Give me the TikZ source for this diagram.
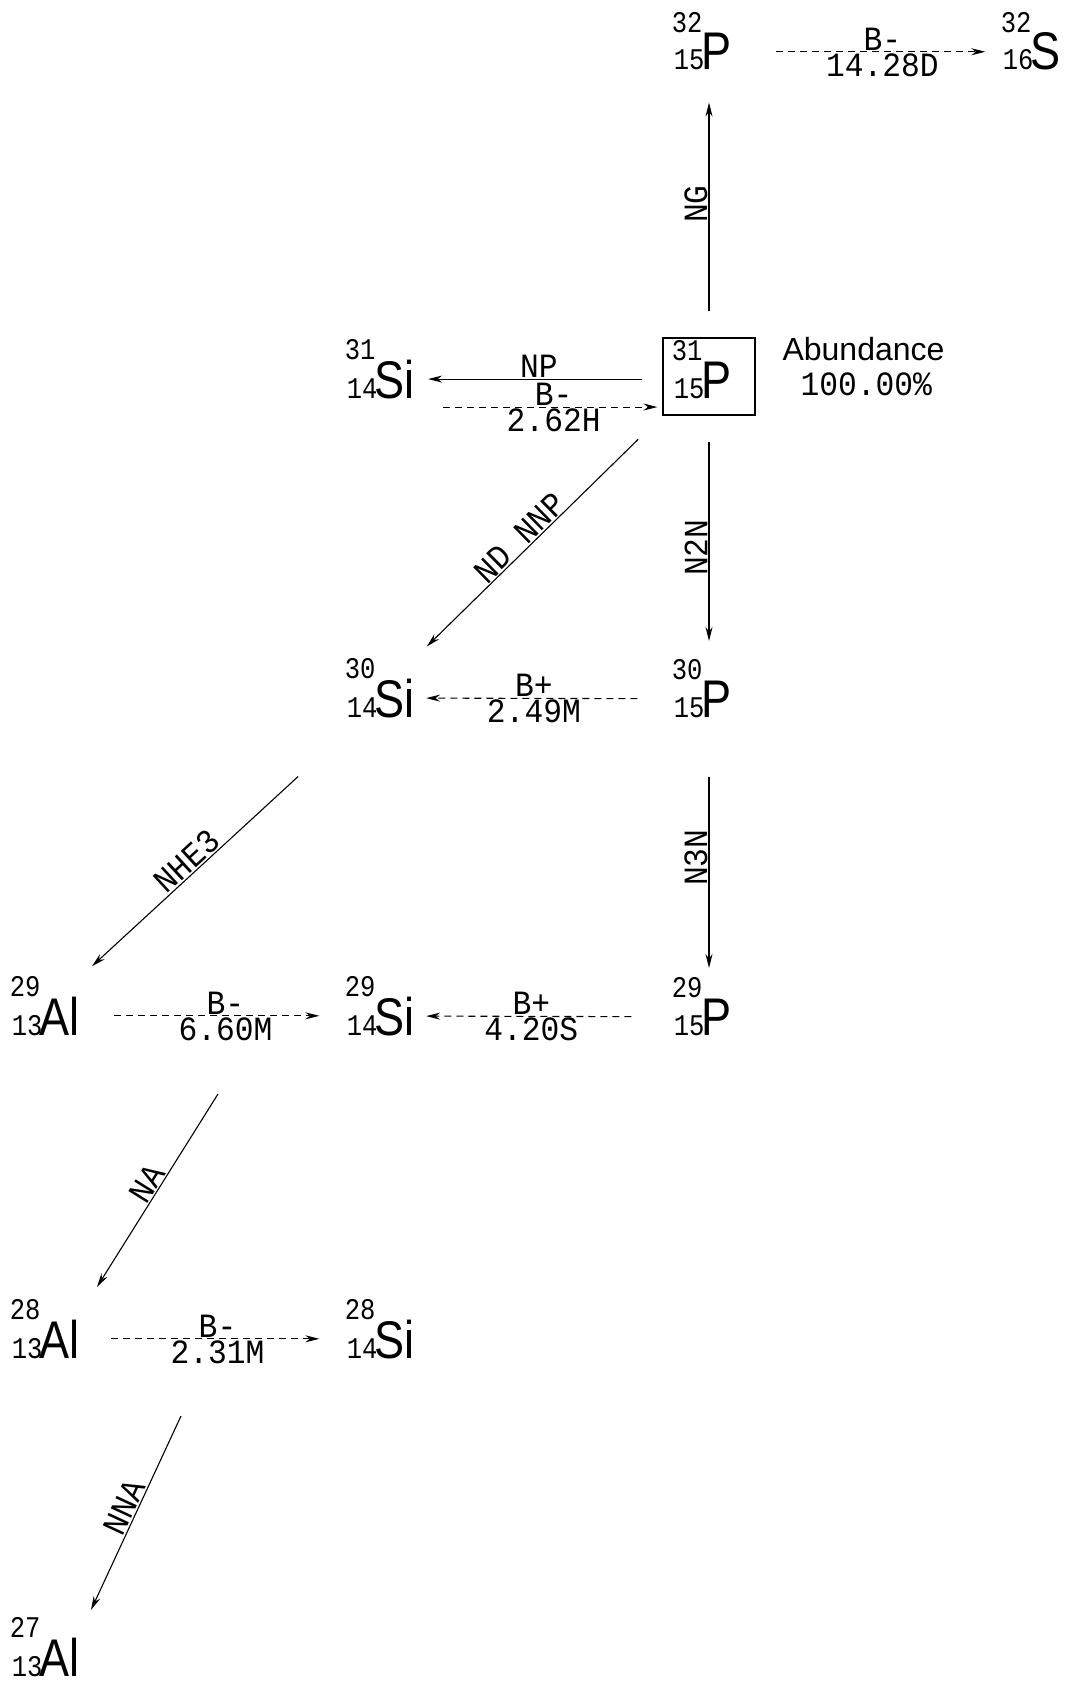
\documentclass[tikz,border=0pt]{standalone}
\usepackage{fontspec}
\usepackage{tikz}
\usetikzlibrary{arrows.meta}
\newfontfamily\nucfont[FakeStretch=0.85]{Liberation Sans}
\newfontfamily\idxfont[FakeStretch=0.85]{Liberation Mono}
\newfontfamily\lblfont[FakeStretch=0.92]{Liberation Mono}
\newfontfamily\txtfont{Liberation Sans}

% #1 name, (#2,#3) start of the symbol on its baseline, #4 mass, #5 charge, #6 symbol
\newcommand{\nuclide}[6]{%
  \node[nuc, anchor=base west] (#1) at (#2,#3) {#6};
  \node[idx, anchor=base east, xshift=4pt] (#1-z) at (#1.base west) {#5};
  \node[idx, anchor=base east, xshift=2pt] (#1-a) at (#1.north west) {#4};
}

\begin{document}
\begin{tikzpicture}[x=1pt, y=-1pt, >={Stealth[length=14pt,width=7pt]}, line width=1.1pt,
    nuc/.style={inner sep=0pt, font=\nucfont\fontsize{53}{60}\selectfont},
    idx/.style={inner sep=0pt, font=\idxfont\fontsize{30}{34}\selectfont},
    lbl/.style={inner sep=1pt, font=\lblfont\fontsize{34}{38}\selectfont},
    reac/.style={->},
    decay/.style={->, dash pattern=on 7pt off 5pt},
    vlbl/.style={lbl, midway, rotate=90, anchor=south}]
    \useasboundingbox (0,0) rectangle (1065,1685);

    \nuclide{p32}{701}{70}{32}{15}{P}
    \nuclide{s32}{1030}{70}{32}{16}{S}
    \nuclide{si31}{374}{398}{31}{14}{Si}
    \nuclide{p31}{701}{398}{31}{15}{P}
    \nuclide{si30}{374}{717}{30}{14}{Si}
    \nuclide{p30}{701}{717}{30}{15}{P}
    \nuclide{al29}{39}{1035}{29}{13}{Al}
    \nuclide{si29}{374}{1035}{29}{14}{Si}
    \nuclide{p29}{701}{1035}{29}{15}{P}
    \nuclide{al28}{39}{1358}{28}{13}{Al}
    \nuclide{si28}{374}{1358}{28}{14}{Si}
    \nuclide{al27}{39}{1676}{27}{13}{Al}

    % target
    \node[draw, minimum width=92pt, minimum height=77pt, inner sep=0pt] (box) at (709,376.5) {};
    \node[inner sep=0pt, anchor=base west, font=\txtfont\fontsize{32}{36}\selectfont] (abund) at (782,360) {Abundance};
    \node[lbl, inner sep=0pt, anchor=base west] (pct) at (800,395) {100.00\%};

    % reactions and decays
    \draw[reac, shorten <=26pt, shorten >=32pt] (box.north) -- (box.north |- p32.south) node[vlbl] {NG};
    \draw[decay, shorten <=44pt, shorten >=15pt] (p32.east) -- (p32.east -| s32-a.west)
        node[lbl, pos=0.56, above] {B-} node[lbl, pos=0.56, below] {14.28D};
    \draw[reac, shorten <=20pt, shorten >=13pt] (box.west |- si31.east) -- (si31.east)
        node[lbl, midway, above] {NP};
    \draw[decay, shorten <=28pt, shorten >=5pt] ([yshift=-28pt]si31.east) -- ([yshift=-28pt]si31.east -| box.west)
        node[lbl, pos=0.56, above] {B-} node[lbl, pos=0.56, below] {2.62H};
    \draw[reac, shorten <=34pt, shorten >=45pt] (box.south west) -- (si30.north)
        node[lbl, midway, sloped, above] {ND NNP};
    \draw[reac, shorten <=26pt, shorten >=39pt] (box.south) -- (box.south |- p30.north) node[vlbl] {N2N};
    \draw[decay, shorten <=36pt, shorten >=11pt] (p30-z.west |- p30.west) -- (si30.east)
        node[lbl, pos=0.54, above] {B+} node[lbl, pos=0.54, below] {2.49M};
    \draw[reac, shorten <=59pt, shorten >=30pt] (box.south |- p30.south) -- (box.south |- p29.north) node[vlbl] {N3N};
    \draw[reac, shorten <=87pt, shorten >=44pt] (si30-z.south) -- (al29.north)
        node[lbl, pos=0.55, sloped, above] {NHE3};
    \draw[decay, shorten <=34pt, shorten >=25pt] (al29.east) -- (al29.east -| si29-a.west)
        node[lbl, pos=0.55, above] {B-} node[lbl, pos=0.55, below] {6.60M};
    \draw[decay, shorten <=42pt, shorten >=11pt] (p29-z.west |- p29.west) -- (si29.east)
        node[lbl, pos=0.55, above] {B+} node[lbl, pos=0.55, below] {4.20S};

    \coordinate (na-a) at (218,1094);
    \coordinate (na-b) at (97,1287);
    \draw[reac] (na-a) -- (na-b) node[lbl, midway, sloped, above] {NA};
    \draw[decay, shorten <=31pt, shorten >=25pt] (al28.east) -- (al28.east -| si28-a.west)
        node[lbl, pos=0.52, above] {B-} node[lbl, pos=0.52, below] {2.31M};

    \coordinate (nna-a) at (181,1416);
    \coordinate (nna-b) at (91,1610);
    \draw[reac] (nna-a) -- (nna-b) node[lbl, midway, sloped, above] {NNA};
\end{tikzpicture}
\end{document}
